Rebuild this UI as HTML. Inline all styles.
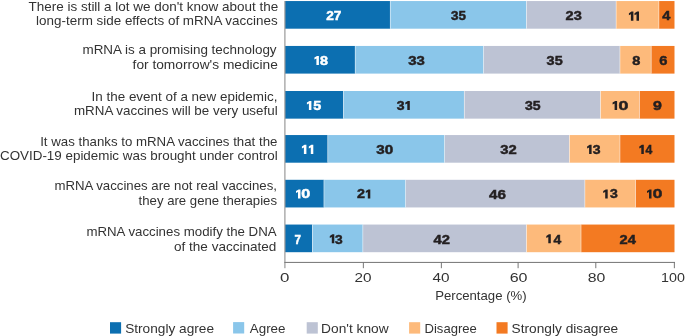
<!DOCTYPE html>
<html><head><meta charset="utf-8"><style>
html,body{margin:0;padding:0;background:#fff;}
body{width:685px;height:336px;overflow:hidden;}
svg{display:block;will-change:transform;}
text{font-family:"Liberation Sans",sans-serif;}
.n{font-size:13.2px;font-weight:bold;}
</style></head><body>
<svg width="685" height="336" viewBox="0 0 685 336">
<rect x="285.00" y="1.05" width="105.17" height="27.65" fill="#0C6FB1"/>
<rect x="390.17" y="1.05" width="136.32" height="27.65" fill="#8AC6EA"/>
<rect x="526.49" y="1.05" width="89.58" height="27.65" fill="#BDC3D4"/>
<rect x="616.08" y="1.05" width="42.84" height="27.65" fill="#FDBA7B"/>
<rect x="658.92" y="1.05" width="15.58" height="27.65" fill="#F37A22"/>
<rect x="389.94" y="1.05" width="0.45" height="27.65" fill="#fff"/>
<rect x="526.27" y="1.05" width="0.45" height="27.65" fill="#fff"/>
<rect x="615.86" y="1.05" width="0.45" height="27.65" fill="#fff"/>
<rect x="658.70" y="1.05" width="0.45" height="27.65" fill="#fff"/>
<text id="N00" x="326.27" y="20.42" textLength="15.16" lengthAdjust="spacingAndGlyphs" style="font-size:13.2px;font-weight:bold;stroke-width:0.5px" fill="#FFFFFF" stroke="#FFFFFF">27</text>
<text id="N01" x="451.02" y="20.42" textLength="14.93" lengthAdjust="spacingAndGlyphs" style="font-size:13.2px;font-weight:bold;stroke-width:0.5px" fill="#231F20" stroke="#231F20">35</text>
<text id="N02" x="565.59" y="20.42" textLength="16.17" lengthAdjust="spacingAndGlyphs" style="font-size:13.2px;font-weight:bold;stroke-width:0.5px" fill="#231F20" stroke="#231F20">23</text>
<path d="M633.40,20.70L633.40,11.60L631.50,11.60L628.90,13.30L628.90,15.30L630.90,14.30L630.90,20.70Z" fill="#231F20"/>
<path d="M639.00,20.70L639.00,11.60L637.10,11.60L634.50,13.30L634.50,15.30L636.50,14.30L636.50,20.70Z" fill="#231F20"/>
<text id="N04" x="662.31" y="20.42" textLength="8.11" lengthAdjust="spacingAndGlyphs" style="font-size:13.2px;font-weight:bold;stroke-width:0.5px" fill="#231F20" stroke="#231F20">4</text>
<rect x="285.00" y="45.95" width="70.11" height="27.65" fill="#0C6FB1"/>
<rect x="355.11" y="45.95" width="128.53" height="27.65" fill="#8AC6EA"/>
<rect x="483.64" y="45.95" width="136.32" height="27.65" fill="#BDC3D4"/>
<rect x="619.97" y="45.95" width="31.16" height="27.65" fill="#FDBA7B"/>
<rect x="651.13" y="45.95" width="23.37" height="27.65" fill="#F37A22"/>
<rect x="354.89" y="45.95" width="0.45" height="27.65" fill="#fff"/>
<rect x="483.42" y="45.95" width="0.45" height="27.65" fill="#fff"/>
<rect x="619.75" y="45.95" width="0.45" height="27.65" fill="#fff"/>
<rect x="650.91" y="45.95" width="0.45" height="27.65" fill="#fff"/>
<path d="M318.90,65.00L318.90,55.90L317.00,55.90L314.40,57.60L314.40,59.60L316.40,58.60L316.40,65.00Z" fill="#FFFFFF"/>
<text id="N10b" x="320.01" y="65.00" textLength="7.99" lengthAdjust="spacingAndGlyphs" style="font-size:13.2px;font-weight:bold;stroke-width:0.5px" fill="#FFFFFF" stroke="#FFFFFF">8</text>
<text id="N11" x="408.26" y="65.00" textLength="16.58" lengthAdjust="spacingAndGlyphs" style="font-size:13.2px;font-weight:bold;stroke-width:0.5px" fill="#231F20" stroke="#231F20">33</text>
<text id="N12" x="546.64" y="65.00" textLength="16.02" lengthAdjust="spacingAndGlyphs" style="font-size:13.2px;font-weight:bold;stroke-width:0.5px" fill="#231F20" stroke="#231F20">35</text>
<text id="N13" x="632.33" y="65.00" textLength="8.09" lengthAdjust="spacingAndGlyphs" style="font-size:13.2px;font-weight:bold;stroke-width:0.5px" fill="#231F20" stroke="#231F20">8</text>
<text id="N14" x="659.18" y="65.00" textLength="8.17" lengthAdjust="spacingAndGlyphs" style="font-size:13.2px;font-weight:bold;stroke-width:0.5px" fill="#231F20" stroke="#231F20">6</text>
<rect x="285.00" y="91.00" width="58.42" height="27.65" fill="#0C6FB1"/>
<rect x="343.43" y="91.00" width="120.75" height="27.65" fill="#8AC6EA"/>
<rect x="464.17" y="91.00" width="136.32" height="27.65" fill="#BDC3D4"/>
<rect x="600.50" y="91.00" width="38.95" height="27.65" fill="#FDBA7B"/>
<rect x="639.45" y="91.00" width="35.05" height="27.65" fill="#F37A22"/>
<rect x="343.20" y="91.00" width="0.45" height="27.65" fill="#fff"/>
<rect x="463.95" y="91.00" width="0.45" height="27.65" fill="#fff"/>
<rect x="600.27" y="91.00" width="0.45" height="27.65" fill="#fff"/>
<rect x="639.23" y="91.00" width="0.45" height="27.65" fill="#fff"/>
<path d="M311.40,110.00L311.40,100.90L309.50,100.90L306.90,102.60L306.90,104.60L308.90,103.60L308.90,110.00Z" fill="#FFFFFF"/>
<text id="N20b" x="313.35" y="110.00" textLength="7.99" lengthAdjust="spacingAndGlyphs" style="font-size:13.2px;font-weight:bold;stroke-width:0.5px" fill="#FFFFFF" stroke="#FFFFFF">5</text>
<text id="N21a" x="396.69" y="110.00" textLength="7.81" lengthAdjust="spacingAndGlyphs" style="font-size:13.2px;font-weight:bold;stroke-width:0.5px" fill="#231F20" stroke="#231F20">3</text>
<path d="M409.80,110.00L409.80,100.90L407.90,100.90L405.30,102.60L405.30,104.60L407.30,103.60L407.30,110.00Z" fill="#231F20"/>
<text id="N22" x="525.00" y="110.00" textLength="15.65" lengthAdjust="spacingAndGlyphs" style="font-size:13.2px;font-weight:bold;stroke-width:0.5px" fill="#231F20" stroke="#231F20">35</text>
<path d="M617.10,110.00L617.10,100.90L615.20,100.90L612.60,102.60L612.60,104.60L614.60,103.60L614.60,110.00Z" fill="#231F20"/>
<text id="N23b" x="618.45" y="110.00" textLength="9.86" lengthAdjust="spacingAndGlyphs" style="font-size:13.2px;font-weight:bold;stroke-width:0.5px" fill="#231F20" stroke="#231F20">0</text>
<text id="N24" x="653.07" y="110.00" textLength="8.90" lengthAdjust="spacingAndGlyphs" style="font-size:13.2px;font-weight:bold;stroke-width:0.5px" fill="#231F20" stroke="#231F20">9</text>
<rect x="285.00" y="135.05" width="42.84" height="27.65" fill="#0C6FB1"/>
<rect x="327.85" y="135.05" width="116.85" height="27.65" fill="#8AC6EA"/>
<rect x="444.70" y="135.05" width="124.64" height="27.65" fill="#BDC3D4"/>
<rect x="569.34" y="135.05" width="50.63" height="27.65" fill="#FDBA7B"/>
<rect x="619.97" y="135.05" width="54.53" height="27.65" fill="#F37A22"/>
<rect x="327.62" y="135.05" width="0.45" height="27.65" fill="#fff"/>
<rect x="444.48" y="135.05" width="0.45" height="27.65" fill="#fff"/>
<rect x="569.12" y="135.05" width="0.45" height="27.65" fill="#fff"/>
<rect x="619.75" y="135.05" width="0.45" height="27.65" fill="#fff"/>
<path d="M306.40,153.90L306.40,144.80L304.50,144.80L301.90,146.50L301.90,148.50L303.90,147.50L303.90,153.90Z" fill="#FFFFFF"/>
<path d="M313.30,153.90L313.30,144.80L311.40,144.80L308.80,146.50L308.80,148.50L310.80,147.50L310.80,153.90Z" fill="#FFFFFF"/>
<text id="N31" x="376.27" y="154.04" textLength="16.88" lengthAdjust="spacingAndGlyphs" style="font-size:13.2px;font-weight:bold;stroke-width:0.5px" fill="#231F20" stroke="#231F20">30</text>
<text id="N32" x="500.39" y="154.04" textLength="16.45" lengthAdjust="spacingAndGlyphs" style="font-size:13.2px;font-weight:bold;stroke-width:0.5px" fill="#231F20" stroke="#231F20">32</text>
<path d="M591.60,153.90L591.60,144.80L589.70,144.80L587.10,146.50L587.10,148.50L589.10,147.50L589.10,153.90Z" fill="#231F20"/>
<text id="N33b" x="592.66" y="153.83" textLength="7.81" lengthAdjust="spacingAndGlyphs" style="font-size:13.2px;font-weight:bold;stroke-width:0.5px" fill="#231F20" stroke="#231F20">3</text>
<path d="M643.80,153.90L643.80,144.80L641.90,144.80L639.30,146.50L639.30,148.50L641.30,147.50L641.30,153.90Z" fill="#231F20"/>
<text id="N34b" x="645.48" y="153.83" textLength="6.77" lengthAdjust="spacingAndGlyphs" style="font-size:13.2px;font-weight:bold;stroke-width:0.5px" fill="#231F20" stroke="#231F20">4</text>
<rect x="285.00" y="179.80" width="38.95" height="27.65" fill="#0C6FB1"/>
<rect x="323.95" y="179.80" width="81.80" height="27.65" fill="#8AC6EA"/>
<rect x="405.75" y="179.80" width="179.17" height="27.65" fill="#BDC3D4"/>
<rect x="584.91" y="179.80" width="50.63" height="27.65" fill="#FDBA7B"/>
<rect x="635.55" y="179.80" width="38.95" height="27.65" fill="#F37A22"/>
<rect x="323.73" y="179.80" width="0.45" height="27.65" fill="#fff"/>
<rect x="405.52" y="179.80" width="0.45" height="27.65" fill="#fff"/>
<rect x="584.69" y="179.80" width="0.45" height="27.65" fill="#fff"/>
<rect x="635.33" y="179.80" width="0.45" height="27.65" fill="#fff"/>
<path d="M300.50,198.50L300.50,189.40L298.60,189.40L296.00,191.10L296.00,193.10L298.00,192.10L298.00,198.50Z" fill="#FFFFFF"/>
<text id="N40b" x="301.34" y="198.15" textLength="8.94" lengthAdjust="spacingAndGlyphs" style="font-size:13.2px;font-weight:bold;stroke-width:0.5px" fill="#FFFFFF" stroke="#FFFFFF">0</text>
<text id="N41a" x="357.01" y="198.15" textLength="7.99" lengthAdjust="spacingAndGlyphs" style="font-size:13.2px;font-weight:bold;stroke-width:0.5px" fill="#231F20" stroke="#231F20">2</text>
<path d="M370.30,198.50L370.30,189.40L368.40,189.40L365.80,191.10L365.80,193.10L367.80,192.10L367.80,198.50Z" fill="#231F20"/>
<text id="N42" x="489.11" y="198.50" textLength="16.89" lengthAdjust="spacingAndGlyphs" style="font-size:13.2px;font-weight:bold;stroke-width:0.5px" fill="#231F20" stroke="#231F20">46</text>
<path d="M607.70,198.50L607.70,189.40L605.80,189.40L603.20,191.10L603.20,193.10L605.20,192.10L605.20,198.50Z" fill="#231F20"/>
<text id="N43b" x="609.97" y="198.15" textLength="7.81" lengthAdjust="spacingAndGlyphs" style="font-size:13.2px;font-weight:bold;stroke-width:0.5px" fill="#231F20" stroke="#231F20">3</text>
<path d="M651.50,198.50L651.50,189.40L649.60,189.40L647.00,191.10L647.00,193.10L649.00,192.10L649.00,198.50Z" fill="#231F20"/>
<text id="N44b" x="652.81" y="198.15" textLength="9.58" lengthAdjust="spacingAndGlyphs" style="font-size:13.2px;font-weight:bold;stroke-width:0.5px" fill="#231F20" stroke="#231F20">0</text>
<rect x="285.00" y="224.55" width="27.27" height="27.65" fill="#0C6FB1"/>
<rect x="312.26" y="224.55" width="50.63" height="27.65" fill="#8AC6EA"/>
<rect x="362.90" y="224.55" width="163.59" height="27.65" fill="#BDC3D4"/>
<rect x="526.49" y="224.55" width="54.53" height="27.65" fill="#FDBA7B"/>
<rect x="581.02" y="224.55" width="93.48" height="27.65" fill="#F37A22"/>
<rect x="312.04" y="224.55" width="0.45" height="27.65" fill="#fff"/>
<rect x="362.68" y="224.55" width="0.45" height="27.65" fill="#fff"/>
<rect x="526.27" y="224.55" width="0.45" height="27.65" fill="#fff"/>
<rect x="580.80" y="224.55" width="0.45" height="27.65" fill="#fff"/>
<text id="N50" x="294.48" y="243.58" textLength="6.46" lengthAdjust="spacingAndGlyphs" style="font-size:13.2px;font-weight:bold;stroke-width:0.5px" fill="#FFFFFF" stroke="#FFFFFF">7</text>
<path d="M334.30,243.30L334.30,234.20L332.40,234.20L329.80,235.90L329.80,237.90L331.80,236.90L331.80,243.30Z" fill="#231F20"/>
<text id="N51b" x="335.13" y="243.51" textLength="7.68" lengthAdjust="spacingAndGlyphs" style="font-size:13.2px;font-weight:bold;stroke-width:0.5px" fill="#231F20" stroke="#231F20">3</text>
<text id="N52" x="433.59" y="243.58" textLength="16.41" lengthAdjust="spacingAndGlyphs" style="font-size:13.2px;font-weight:bold;stroke-width:0.5px" fill="#231F20" stroke="#231F20">42</text>
<path d="M550.80,243.30L550.80,234.20L548.90,234.20L546.30,235.90L546.30,237.90L548.30,236.90L548.30,243.30Z" fill="#231F20"/>
<text id="N53b" x="553.40" y="243.51" textLength="7.74" lengthAdjust="spacingAndGlyphs" style="font-size:13.2px;font-weight:bold;stroke-width:0.5px" fill="#231F20" stroke="#231F20">4</text>
<text id="N54" x="619.59" y="243.58" textLength="16.32" lengthAdjust="spacingAndGlyphs" style="font-size:13.2px;font-weight:bold;stroke-width:0.5px" fill="#231F20" stroke="#231F20">24</text>
<rect x="284.3" y="1" width="1.2" height="267.2" fill="#999"/>
<rect x="284.3" y="261.9" width="390.70" height="1.1" fill="#808080"/>
<rect x="362.85" y="262" width="1.0" height="6.2" fill="#777"/>
<rect x="440.86" y="262" width="1.0" height="6.2" fill="#777"/>
<rect x="517.60" y="262" width="1.0" height="6.2" fill="#777"/>
<rect x="595.30" y="262" width="1.0" height="6.2" fill="#777"/>
<rect x="673.86" y="262" width="1.0" height="6.2" fill="#777"/>
<rect x="110" y="322.2" width="11.1" height="11.4" fill="#0C6FB1"/>
<rect x="233.1" y="322.1" width="11.1" height="11.4" fill="#8AC6EA"/>
<rect x="306.7" y="322.2" width="11.1" height="11.4" fill="#BDC3D4"/>
<rect x="409.1" y="322.2" width="11.1" height="11.4" fill="#FDBA7B"/>
<rect x="496.5" y="322.2" width="11.1" height="11.4" fill="#F37A22"/>
<text id="L0" x="28.49" y="10.90" textLength="249.72" lengthAdjust="spacingAndGlyphs" style="font-size:13.3px;font-weight:normal" fill="#333333">There is still a lot we don't know about the</text>
<text id="L1" x="36.11" y="25.40" textLength="241.50" lengthAdjust="spacingAndGlyphs" style="font-size:13.3px;font-weight:normal" fill="#333333">long-term side effects of mRNA vaccines</text>
<text id="L2" x="82.48" y="54.10" textLength="194.13" lengthAdjust="spacingAndGlyphs" style="font-size:13.3px;font-weight:normal" fill="#333333">mRNA is a promising technology</text>
<text id="L3" x="132.58" y="69.00" textLength="145.23" lengthAdjust="spacingAndGlyphs" style="font-size:13.3px;font-weight:normal" fill="#333333">for tomorrow's medicine</text>
<text id="L4" x="91.57" y="101.10" textLength="185.86" lengthAdjust="spacingAndGlyphs" style="font-size:13.3px;font-weight:normal" fill="#333333">In the event of a new epidemic,</text>
<text id="L5" x="73.99" y="115.40" textLength="203.64" lengthAdjust="spacingAndGlyphs" style="font-size:13.3px;font-weight:normal" fill="#333333">mRNA vaccines will be very useful</text>
<text id="L6" x="40.19" y="145.50" textLength="237.22" lengthAdjust="spacingAndGlyphs" style="font-size:13.3px;font-weight:normal" fill="#333333">It was thanks to mRNA vaccines that the</text>
<text id="L7" x="-0.01" y="160.00" textLength="277.63" lengthAdjust="spacingAndGlyphs" style="font-size:13.3px;font-weight:normal" fill="#333333">COVID-19 epidemic was brought under control</text>
<text id="L8" x="54.38" y="189.70" textLength="222.63" lengthAdjust="spacingAndGlyphs" style="font-size:13.3px;font-weight:normal" fill="#333333">mRNA vaccines are not real vaccines,</text>
<text id="L9" x="138.59" y="204.50" textLength="138.43" lengthAdjust="spacingAndGlyphs" style="font-size:13.3px;font-weight:normal" fill="#333333">they are gene therapies</text>
<text id="L10" x="86.38" y="236.20" textLength="190.23" lengthAdjust="spacingAndGlyphs" style="font-size:13.3px;font-weight:normal" fill="#333333">mRNA vaccines modify the DNA</text>
<text id="L11" x="173.98" y="250.70" textLength="102.45" lengthAdjust="spacingAndGlyphs" style="font-size:13.3px;font-weight:normal" fill="#333333">of the vaccinated</text>
<text id="T0" x="280.09" y="281.90" textLength="9.41" lengthAdjust="spacingAndGlyphs" style="font-size:13.3px;font-weight:normal" fill="#333333">0</text>
<text id="T1" x="354.56" y="281.90" textLength="17.03" lengthAdjust="spacingAndGlyphs" style="font-size:13.3px;font-weight:normal" fill="#333333">20</text>
<text id="T2" x="432.46" y="281.90" textLength="17.05" lengthAdjust="spacingAndGlyphs" style="font-size:13.3px;font-weight:normal" fill="#333333">40</text>
<text id="T3" x="509.67" y="281.90" textLength="17.85" lengthAdjust="spacingAndGlyphs" style="font-size:13.3px;font-weight:normal" fill="#333333">60</text>
<text id="T4" x="587.82" y="281.90" textLength="17.61" lengthAdjust="spacingAndGlyphs" style="font-size:13.3px;font-weight:normal" fill="#333333">80</text>
<text id="T5" x="661.08" y="281.90" textLength="23.84" lengthAdjust="spacingAndGlyphs" style="font-size:13.3px;font-weight:normal" fill="#333333">100</text>
<text id="TT" x="435.15" y="299.60" textLength="91.49" lengthAdjust="spacingAndGlyphs" style="font-size:13.3px;font-weight:normal" fill="#333333">Percentage (%)</text>
<text id="G0" x="125.17" y="332.70" textLength="88.85" lengthAdjust="spacingAndGlyphs" style="font-size:13.5px;font-weight:normal" fill="#333333">Strongly agree</text>
<text id="G1" x="249.79" y="332.70" textLength="35.68" lengthAdjust="spacingAndGlyphs" style="font-size:13.5px;font-weight:normal" fill="#333333">Agree</text>
<text id="G2" x="321.12" y="332.70" textLength="67.54" lengthAdjust="spacingAndGlyphs" style="font-size:13.5px;font-weight:normal" fill="#333333">Don't know</text>
<text id="G3" x="424.53" y="332.70" textLength="52.30" lengthAdjust="spacingAndGlyphs" style="font-size:13.5px;font-weight:normal" fill="#333333">Disagree</text>
<text id="G4" x="511.56" y="332.70" textLength="106.65" lengthAdjust="spacingAndGlyphs" style="font-size:13.5px;font-weight:normal" fill="#333333">Strongly disagree</text>
</svg></body></html>
